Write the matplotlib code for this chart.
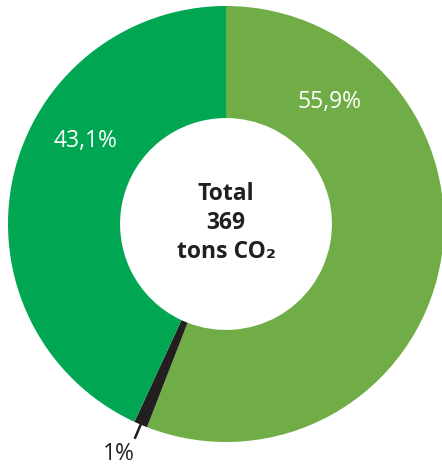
import numpy as np
import matplotlib
matplotlib.use("Agg")
import matplotlib.pyplot as plt

plt.rcParams['font.family'] = ['Open Sans', 'DejaVu Sans']

# data
shares = [55.9, 1.0, 43.1]
labels = ["55,9%", "1%", "43,1%"]
colors = ["#70ad47", "#231f20", "#00a651"]
center_text = "Total\n369\ntons CO₂"

W, H = 442, 470
fig = plt.figure(figsize=(W / 100, H / 100), dpi=100)
cx, cy, R = 226, 224, 218
ax = fig.add_axes([(cx - R) / W, (H - cy - R) / H, 2 * R / W, 2 * R / H])
ax.axis("off")

wedges, _ = ax.pie(shares, colors=colors, startangle=90, counterclock=False,
                   radius=1, wedgeprops=dict(width=0.514, edgecolor="none"))
ax.set_xlim(-1, 1)
ax.set_ylim(-1, 1)

# big slice labels (placed by hand like the original)
ax.text(0.475, 0.56, labels[0], color="white", fontsize=16.5, ha="center", va="center")
ax.text(-0.645, 0.381, labels[2], color="white", fontsize=16.5, ha="center", va="center")

# small slice: leader line + label outside
w = wedges[1]
ang = np.deg2rad((w.theta1 + w.theta2) / 2)
d = np.array([np.cos(ang), np.sin(ang)])
p0, p1 = d * 1.0, d * 1.065
ax.plot([p0[0], p1[0]], [p0[1], p1[1]], color="#231f20", lw=1.8, clip_on=False)
ax.text(-0.491, -1.053, labels[1], color="#231f20", fontsize=16.5, ha="center", va="center")

ax.text(0, 0.005, center_text, color="#231f20", fontsize=16.5, fontweight="bold",
        ha="center", va="center", linespacing=1.28)

fig.savefig("out.png", dpi=100)
